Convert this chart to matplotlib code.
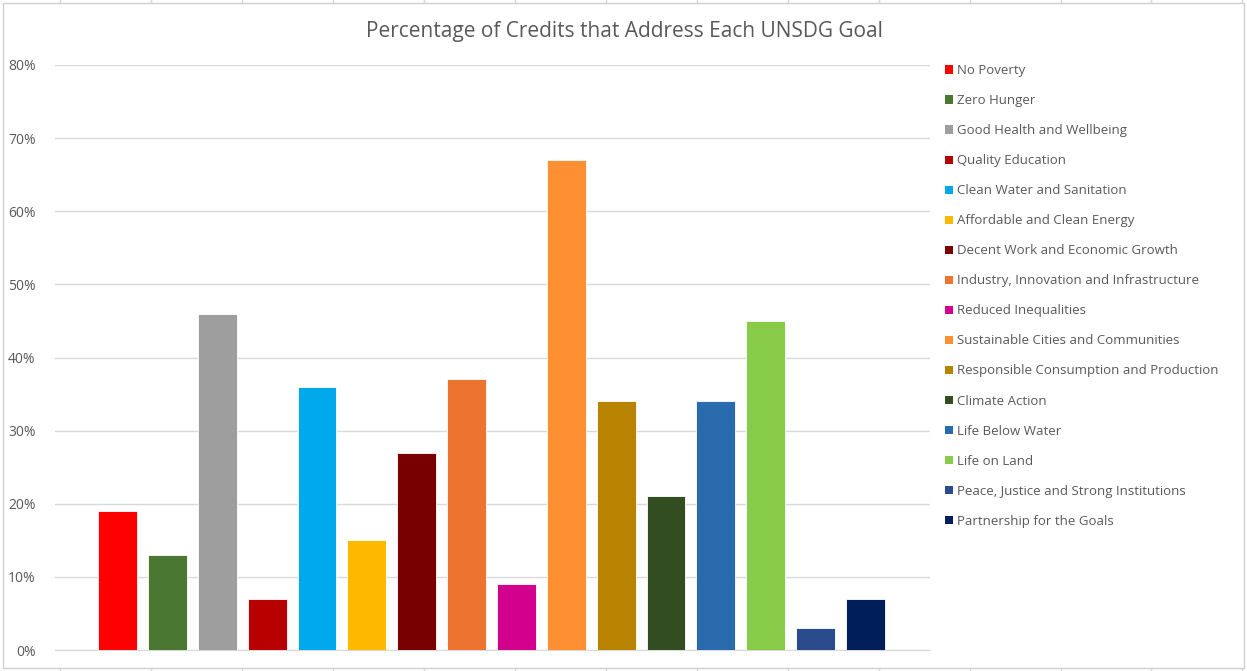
import numpy as np
import matplotlib
matplotlib.use("Agg")
import matplotlib.pyplot as plt
from matplotlib.patches import Patch

plt.rcParams['font.family'] = ['Open Sans', 'DejaVu Sans']

goals = ["No Poverty", "Zero Hunger", "Good Health and Wellbeing", "Quality Education",
         "Clean Water and Sanitation", "Affordable and Clean Energy",
         "Decent Work and Economic Growth", "Industry, Innovation and Infrastructure",
         "Reduced Inequalities", "Sustainable Cities and Communities",
         "Responsible Consumption and Production", "Climate Action",
         "Life Below Water", "Life on Land", "Peace, Justice and Strong Institutions",
         "Partnership for the Goals"]
percent = [19, 13, 46, 7, 36, 15, 27, 37, 9, 67, 34, 21, 34, 45, 3, 7]
colors = ["#FF0000", "#4A7731", "#9E9E9E", "#B80000", "#00A8EC", "#FFB800",
          "#780000", "#EC7430", "#D2008C", "#FF8F33", "#B88400", "#324D20",
          "#2A6BAD", "#88CB48", "#2A4C8C", "#001F5A"]
yticks = [0, 10, 20, 30, 40, 50, 60, 70, 80]

W, H = 1247, 671
fig = plt.figure(figsize=(W / 100, H / 100), dpi=100)

# spreadsheet grid peeking out behind the chart
for x in [60, 151, 242, 333, 424, 515, 606, 697, 788, 879, 970, 1061, 1151, 1242]:
    fig.add_artist(plt.Line2D([x / W, x / W], [1, 1 - 3 / H], color="#d4d4d4", lw=1))
    fig.add_artist(plt.Line2D([x / W, x / W], [0, 3 / H], color="#d4d4d4", lw=1))
fig.add_artist(plt.Rectangle((3 / W, 3 / H), (W - 6) / W, (H - 6) / H, fill=False,
                             edgecolor="#d0d0d0", lw=1))

# plot area: y=0 at 650px, 80% at 65px; x from 55 to 930px
ax = fig.add_axes([55 / W, (H - 650) / H, (930 - 55) / W, (650 - 65) / H])
x = np.arange(len(goals))
ax.bar(x, percent, width=0.78, color=colors, edgecolor="white", linewidth=0.6, zorder=3)

unit = (865.5 - 117.5) / 15
ax.set_xlim(-(117.5 - 55) / unit, 15 + (930 - 865.5) / unit)
ax.set_ylim(0, 80)
ax.set_yticks(yticks)
ax.set_yticklabels([f"{t}%" for t in yticks], fontsize=10, color="#595959")
ax.set_xticks([])
ax.grid(axis="y", color="#d9d9d9", lw=1, zorder=0)
for s in ax.spines.values():
    s.set_visible(False)
ax.spines["bottom"].set_visible(True)
ax.spines["bottom"].set_color("#d9d9d9")
ax.tick_params(axis="y", length=0, pad=14)

fig.text(624 / W, 1 - 32 / H, "Percentage of Credits that Address Each UNSDG Goal",
         ha="center", va="center", fontsize=15, color="#595959")

handles = [Patch(facecolor=c, edgecolor="none") for c in colors]
leg = fig.legend(handles, goals, loc="upper left", bbox_to_anchor=(940 / W, 1 - 59 / H),
                 frameon=False, fontsize=9.5, labelcolor="#595959",
                 handlelength=0.6, handleheight=0.6, handletextpad=0.3,
                 labelspacing=1.29, borderaxespad=0)

fig.savefig("out.png", dpi=100)
